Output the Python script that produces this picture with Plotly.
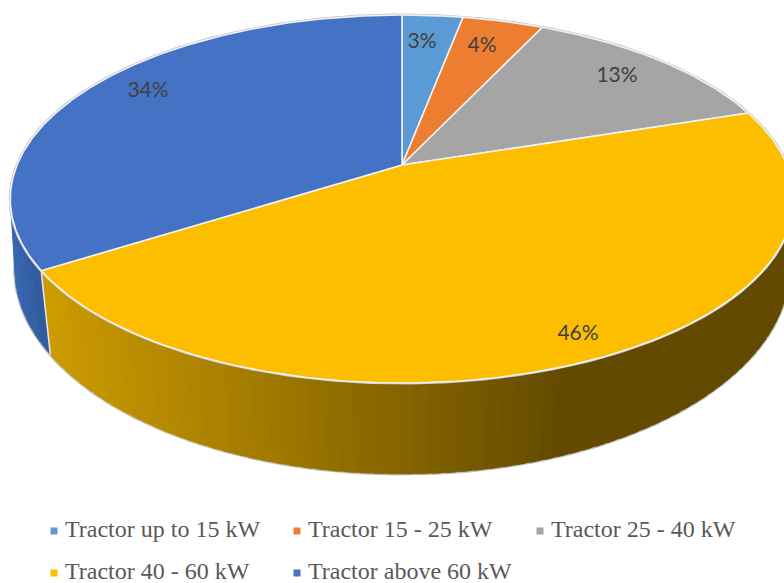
import numpy as np
import plotly.graph_objects as go

categories = ["Tractor up to 15 kW", "Tractor 15 - 25 kW", "Tractor 25 - 40 kW",
              "Tractor 40 - 60 kW", "Tractor above 60 kW"]
values = [3, 4, 13, 46, 34]
colors = ["#5B9BD5", "#ED7D31", "#A5A5A5", "#FDBE00", "#4472C4"]
labels = ["3%", "4%", "13%", "46%", "34%"]
label_x = [422, 482, 617, 578, 148]
label_y = [43, 47, 77, 335, 92]
legend_x = [54, 297, 540, 54, 297]
legend_y = [531, 531, 531, 573, 573]

W, H = 784, 583
CX = 402.0
TOP = dict(c=165.0, A=385.0, B=177.7, k=0.185)
BOT = dict(c=238.0, A=383.0, B=200.7, k=0.15)


def proj(theta, d):
    u, v = np.sin(theta), np.cos(theta)
    w = 1 + d["k"] * v
    return CX + d["A"] * u / w, d["c"] - d["B"] * v / w


def arc(a, b, step=0.01):
    n = max(int(abs(b - a) / step), 2)
    return np.linspace(a, b, n + 1)


def lerp(x, x0, x1, c0, c1):
    t = float(np.clip((x - x0) / (x1 - x0), 0, 1))
    return "rgb(%d,%d,%d)" % tuple(round(p + (q - p) * t) for p, q in zip(c0, c1))


fracs = np.cumsum([0] + values) / sum(values) * 2 * np.pi
fig = go.Figure()


def poly(x, y, fill, line=None, width=1.5):
    fig.add_trace(go.Scatter(x=list(x), y=list(y), mode="lines", fill="toself",
                             fillcolor=fill, line=dict(color=line or fill, width=width),
                             hoverinfo="skip", showlegend=False))


def path(x, y, color, width):
    fig.add_trace(go.Scatter(x=list(x), y=list(y), mode="lines",
                             line=dict(color=color, width=width),
                             hoverinfo="skip", showlegend=False))


# soft grey silhouette
t = arc(np.pi / 2, 3 * np.pi / 2)
bx, by = proj(t, BOT)
path(bx, by, "#C4C4C4", 3)


def side(a, b, x0, x1, c0, c1, nstrip):
    edges = np.linspace(a, b, nstrip + 1)
    for e0, e1 in zip(edges[:-1], edges[1:]):
        th = np.linspace(e0, e1 + (e1 - e0) * 0.6 if e1 < b else e1, 5)
        tx, ty = proj(th, TOP)
        ux, uy = proj(th[::-1], BOT)
        col = lerp((tx.mean() + ux.mean()) / 2, x0, x1, c0, c1)
        poly(np.r_[tx, ux, tx[0]], np.r_[ty, uy, ty[0]], col, col, 0.3)


# extruded wall of the two front slices
side(fracs[4], fracs[4] + 0.9, 12, 50, (58, 104, 178), (47, 86, 152), 14)
side(fracs[3], fracs[4], 50, 560, (204, 155, 0), (99, 74, 0), 90)

# slice boundary on the wall
x1, y1 = proj(np.array([fracs[4]]), TOP)
x2, y2 = proj(np.array([fracs[4]]), BOT)
path([x1[0], x2[0]], [y1[0], y2[0]], "#E8E8E8", 1.5)

# top face rim and slices
t = arc(0, 2 * np.pi)
ex, ey = proj(t, TOP)
path(ex, ey, "#C4C4C4", 3)
for i, col in enumerate(colors):
    th = arc(fracs[i], fracs[i + 1])
    ax, ay = proj(th, TOP)
    poly(np.r_[CX, ax, CX], np.r_[TOP["c"], ay, TOP["c"]], col, "#F2F2F2", 1.6)

# data labels
fig.add_trace(go.Scatter(x=label_x, y=label_y, mode="text", text=labels,
                         textposition="middle center",
                         textfont=dict(family="Lato", size=21, color="#404040"),
                         hoverinfo="skip", showlegend=False))
# legend
fig.add_trace(go.Scatter(x=legend_x, y=legend_y, mode="markers",
                         marker=dict(symbol="square", size=7, color=colors),
                         hoverinfo="skip", showlegend=False, cliponaxis=False))
fig.add_trace(go.Scatter(x=[v + 11 for v in legend_x], y=legend_y, mode="text",
                         text=categories, textposition="middle right",
                         textfont=dict(family="Liberation Serif", size=24, color="#595959"),
                         hoverinfo="skip", showlegend=False, cliponaxis=False))

fig.update_layout(width=W, height=H, autosize=False,
                  margin=dict(l=0, r=0, t=0, b=0),
                  paper_bgcolor="white", plot_bgcolor="white",
                  xaxis=dict(range=[0, W], visible=False, fixedrange=True),
                  yaxis=dict(range=[H, 0], visible=False, fixedrange=True))
fig.write_html("out.html", config=dict(displayModeBar=False),
               post_script="document.body.style.margin='0';document.documentElement.style.overflow='hidden';")
